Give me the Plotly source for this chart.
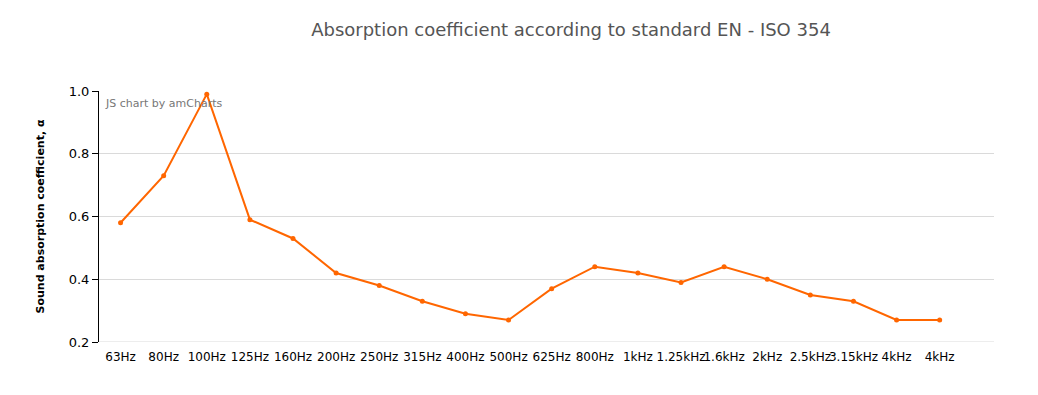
import plotly.graph_objects as go

categories = ["63Hz", "80Hz", "100Hz", "125Hz", "160Hz", "200Hz", "250Hz", "315Hz",
              "400Hz", "500Hz", "625Hz", "800Hz", "1kHz", "1.25kHz", "1.6kHz", "2kHz",
              "2.5kHz", "3.15kHz", "4kHz", "4kHz"]
absorption = [0.58, 0.73, 0.99, 0.59, 0.53, 0.42, 0.38, 0.33, 0.29, 0.27,
              0.37, 0.44, 0.42, 0.39, 0.44, 0.40, 0.35, 0.33, 0.27, 0.27]
y_ticks = [0.2, 0.4, 0.6, 0.8, 1.0]
y_tick_labels = ["0.2", "0.4", "0.6", "0.8", "1.0"]

positions = list(range(len(categories)))
FONT = "DejaVu Sans, Verdana, sans-serif"

# page body has an 8px margin; figure coordinates are page coordinates minus 8
OFF = 8
W, H = 1022, 379
L, T = 99 - OFF, 91 - OFF
R = W - (994 - OFF)
B = H - (342 - OFF)
pw = W - L - R
ph = H - T - B

fig = go.Figure()
fig.add_trace(go.Scatter(
    x=positions, y=absorption, mode="lines+markers",
    line=dict(color="#FF6600", width=2),
    marker=dict(color="#FF6600", size=5),
    hoverinfo="x+y", showlegend=False,
))

fig.add_shape(type="line", xref="paper", yref="y", x0=0, x1=1, y0=0.2, y1=0.2,
              line=dict(color="#DADADA", width=1), layer="below")

fig.update_layout(
    width=W, height=H,
    margin=dict(l=L, r=R, t=T, b=B, pad=0, autoexpand=False),
    paper_bgcolor="white", plot_bgcolor="white",
    font=dict(family=FONT, size=12, color="#000000"),
    title=dict(text="Absorption coefficient according to standard EN - ISO 354",
               x=(571 - OFF - L) / pw, xref="paper", xanchor="center",
               y=1 - (30 - OFF) / H, yref="container", yanchor="middle",
               font=dict(family=FONT, size=18, color="#555555")),
    xaxis=dict(
        range=[-0.5, 20.26], tickmode="array", tickvals=positions, ticktext=categories,
        showgrid=False, zeroline=False, showline=False, ticks="", tickangle=0,
        ticklabelstandoff=6,
        automargin=False,
        tickfont=dict(family=FONT, size=12, color="#000000"),
        fixedrange=True,
    ),
    yaxis=dict(
        range=[0.2, 1.0], tickmode="array", tickvals=y_ticks, ticktext=y_tick_labels,
        showgrid=True, gridcolor="#DADADA", gridwidth=1, zeroline=False,
        showline=True, linecolor="#000000", linewidth=1,
        ticks="outside", ticklen=6, tickcolor="#000000",
        automargin=False,
        tickfont=dict(family=FONT, size=13, color="#000000"),
        fixedrange=True,
    ),
    annotations=[
        dict(text="<b>Sound absorption coefficient, α</b>", textangle=-90,
             xref="paper", yref="paper", x=(40 - OFF - L) / pw, y=0.5,
             xanchor="center", yanchor="middle", showarrow=False,
             font=dict(family=FONT, size=11, color="#000000")),
        dict(text="JS chart by amCharts", xref="paper", yref="paper",
             x=(103 - OFF - L) / pw, y=1 - (104 - OFF - T) / ph,
             xanchor="left", yanchor="middle", showarrow=False,
             font=dict(family=FONT, size=11, color="#777777")),
    ],
)

fig.write_html("out.html")
